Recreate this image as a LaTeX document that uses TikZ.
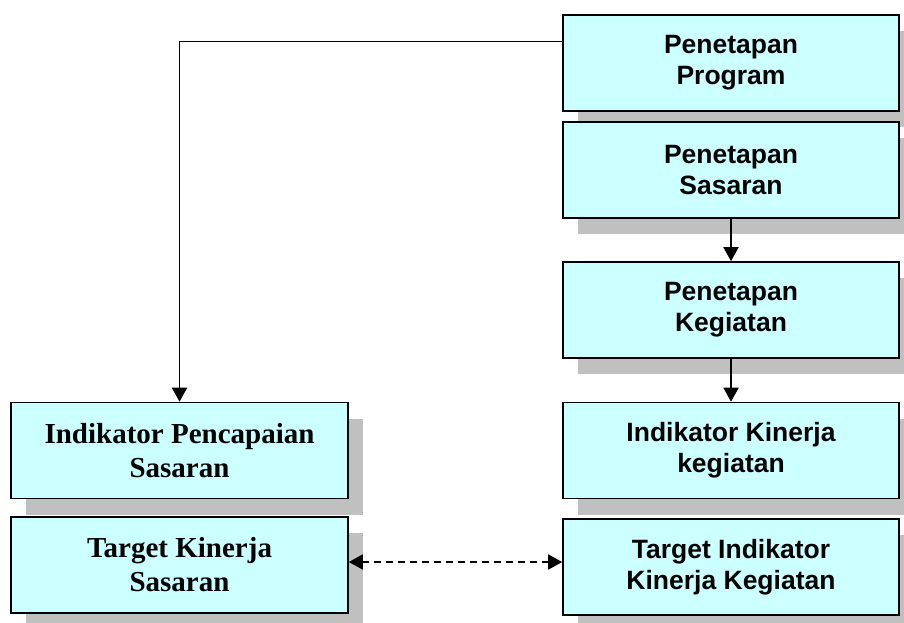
\documentclass[tikz,border=0pt]{standalone}
\usepackage{fontspec}
\setmainfont{Liberation Serif}
\setsansfont{Liberation Sans}
\usepackage{tikz}
\usetikzlibrary{arrows.meta, shadows, calc}
\definecolor{boxfill}{HTML}{CCFFFF}
\definecolor{shade}{HTML}{C0C0C0}

\begin{document}
\begin{tikzpicture}[x=1pt, y=-1pt,
        box/.style={draw=black, line width=1.6pt, fill=boxfill, align=center,
                inner sep=0pt, minimum height=96pt,
                drop shadow={shadow xshift=15pt, shadow yshift=-16pt, fill=shade, opacity=1}},
        rbox/.style={box, minimum width=336pt, font=\sffamily\bfseries\fontsize{26.5}{31}\selectfont},
        lbox/.style={box, minimum width=337pt, font=\bfseries\fontsize{29}{34}\selectfont},
        arr/.style={-{Triangle[length=14pt, width=15pt]}, line width=1.8pt}]
        \useasboundingbox (0,0) rectangle (904,623);
        % right column
        \node[rbox] (prog) at (731, 63) {Penetapan\\Program};
        \node[rbox] (sas) at (731, 170) {Penetapan\\Sasaran};
        \node[rbox] (keg) at (731, 310) {Penetapan\\Kegiatan};
        \node[rbox] (ikk) at (731, 450.5) {Indikator Kinerja\\kegiatan};
        \node[rbox] (tikk) at (731, 567) {Target Indikator\\Kinerja Kegiatan};
        % left column
        \node[lbox] (ips) at (179.5, 450.5) {Indikator Pencapaian\\Sasaran};
        \node[lbox] (tks) at (179.5, 565) {Target Kinerja\\Sasaran};
        % connectors
        \coordinate (pout) at ($(prog.north west)!0.28!(prog.south west)$);
        \coordinate (dl) at ($(tks.east)+(0,-3)$);
        \coordinate (dr) at (dl -| tikk.west);
        \draw[arr] (pout) -| (ips.north);
        \draw[arr] (sas.south) -- (keg.north);
        \draw[arr] (keg.south) -- (ikk.north);
        \draw[arr, {Triangle[length=14pt, width=15pt]}-{Triangle[length=14pt, width=15pt]}, dash pattern=on 7pt off 5pt] (dl) -- (dr);
\end{tikzpicture}
\end{document}
